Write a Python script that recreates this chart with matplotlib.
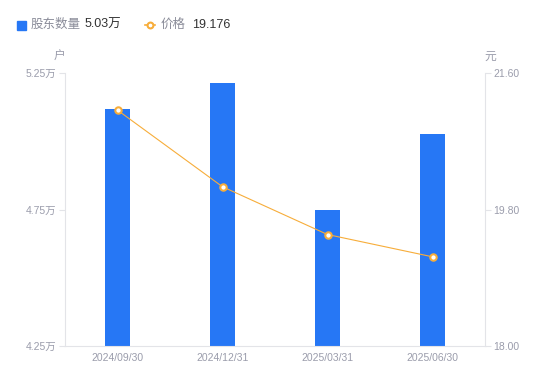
import numpy as np
import matplotlib
matplotlib.use("Agg")
import matplotlib.pyplot as plt

plt.rcParams['font.family'] = ['Liberation Sans', 'Noto Sans CJK SC', 'DejaVu Sans']

dates = ['2024/09/30', '2024/12/31', '2025/03/31', '2025/06/30']
holders = [5.118, 5.213, 4.750, 5.027]   # 万户
price = [21.11, 20.10, 19.47, 19.176]     # 元

left_ticks = [4.25, 4.75, 5.25]
right_ticks = [18.00, 19.80, 21.60]

bar_color = '#2677f5'
line_color = '#f7ad3a'
tick_color = '#9a9cab'
axis_color = '#e3e4e8'

W, H = 550, 381
fig = plt.figure(figsize=(W / 100, H / 100), dpi=100)
ax = fig.add_axes([65 / W, (H - 346) / H, 420 / W, 273 / H])
ax2 = ax.twinx()

x = np.arange(len(dates))
ax.bar(x, holders, width=0.238, color=bar_color, zorder=2)
ax.set_xlim(-0.5, len(dates) - 0.5)
ax.set_ylim(left_ticks[0], left_ticks[-1])
ax.set_yticks(left_ticks)
ax.set_yticklabels([f'{v:.2f}万' for v in left_ticks])
ax.set_xticks(x)
ax.set_xticklabels(dates)

ax2.plot(x, price, color=line_color, lw=0.8, marker='o', ms=4.6,
         mfc='white', mec=line_color, mew=1.5, zorder=3)
ax2.set_ylim(right_ticks[0], right_ticks[-1])
ax2.set_yticks(right_ticks)
ax2.set_yticklabels([f'{v:.2f}' for v in right_ticks])

for a in (ax, ax2):
    for s in a.spines.values():
        s.set_visible(False)
    a.tick_params(colors=tick_color, labelsize=7.5, length=4, width=0.8, pad=2)
    a.tick_params(axis='y', colors=axis_color, labelcolor=tick_color)
ax.tick_params(axis='x', length=0, pad=5)
ax.spines['left'].set_visible(True)
ax.spines['left'].set_color(axis_color)
ax.spines['bottom'].set_visible(True)
ax.spines['bottom'].set_color(axis_color)
ax2.spines['right'].set_visible(True)
ax2.spines['right'].set_color(axis_color)

# unit labels
fig.text(59 / W, 1 - 57 / H, '户', color=tick_color, fontsize=8.5, ha='center', va='center')
fig.text(490 / W, 1 - 57 / H, '元', color=tick_color, fontsize=8.5, ha='center', va='center')

# legend
ly = 1 - 25 / H
fig.patches.append(plt.Rectangle((17 / W, 1 - 29.5 / H), 9 / W, 9 / H, transform=fig.transFigure,
                                 color=bar_color, figure=fig))
fig.text(31 / W, ly, '股东数量', color='#8a8c99', fontsize=9, va='center')
fig.text(85 / W, ly, f'{holders[-1]:.2f}万', color='#333333', fontsize=9, va='center')
fig.lines.append(plt.Line2D([145 / W, 155 / W], [ly] * 2, transform=fig.transFigure,
                            color=line_color, lw=1.2))
fig.lines.append(plt.Line2D([150 / W], [ly], transform=fig.transFigure, marker='o',
                            ms=4.2, mfc='white', mec=line_color, mew=1.5))
fig.text(161 / W, ly, '价格', color='#8a8c99', fontsize=9, va='center')
fig.text(192 / W, ly, f'{price[-1]:.3f}', color='#333333', fontsize=9, va='center')

fig.savefig('out.png', dpi=100)
